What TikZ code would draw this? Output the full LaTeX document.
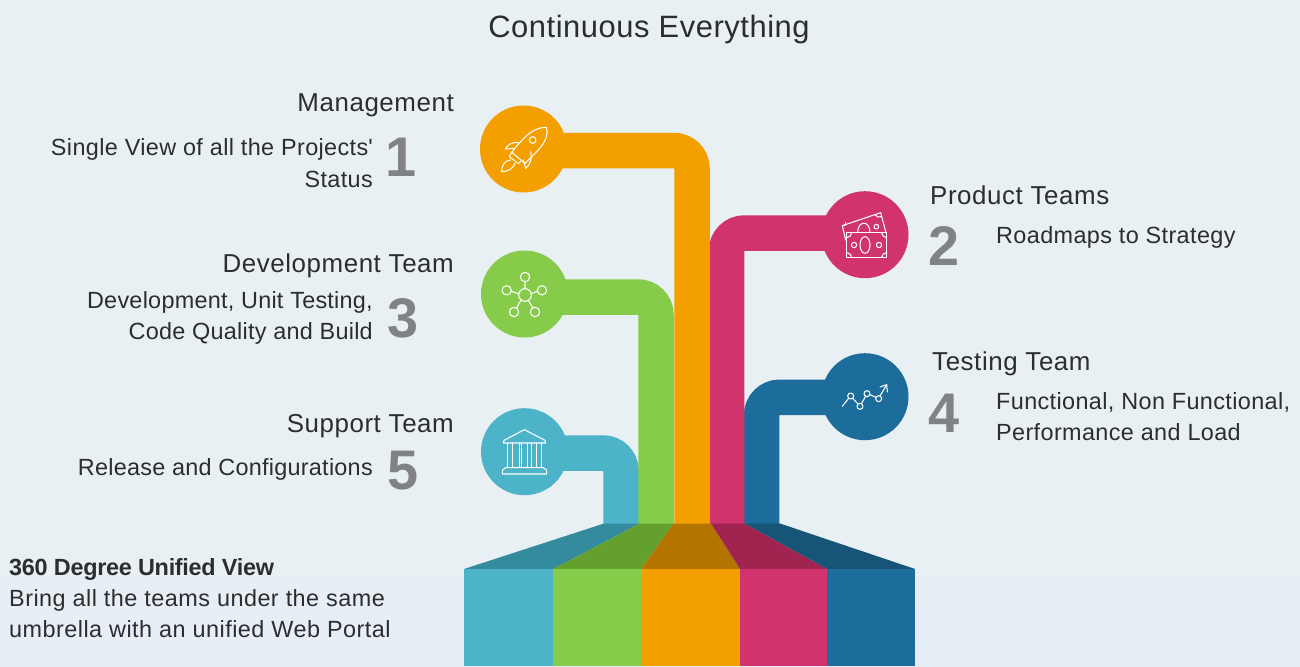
\documentclass[tikz,border=0pt]{standalone}
\usepackage{fontspec}
\setmainfont{Liberation Sans}
\newfontfamily\plainquote{Liberation Sans}
\usetikzlibrary{backgrounds}
\definecolor{cteal}{HTML}{4DB3C8}\definecolor{cgreen}{HTML}{86CC4A}\definecolor{corange}{HTML}{F49F00}\definecolor{cpink}{HTML}{D1336C}\definecolor{cblue}{HTML}{1C6D9B}
\definecolor{dteal}{HTML}{348B9E}\definecolor{dgreen}{HTML}{64A02E}\definecolor{dorange}{HTML}{B37500}\definecolor{dpink}{HTML}{A0244F}\definecolor{dblue}{HTML}{175578}
\definecolor{ink}{HTML}{2B2D30}\definecolor{numgray}{HTML}{808285}
\definecolor{bgtop}{HTML}{E8F0F4}\definecolor{bgbot}{HTML}{E6EDF5}
\tikzset{
 x=1bp,y=-1bp,
 disc/.style={circle,minimum size=87bp,inner sep=0pt,fill=#1},
 bar/.style={line width=35.5bp,rounded corners=18bp,draw=#1},
 head/.style={font=\fontsize{26}{26}\selectfont\addfontfeature{LetterSpace=2.2},text=ink,inner sep=0pt},
 body/.style={font=\fontsize{23.5}{31}\selectfont\addfontfeature{LetterSpace=1.6},text=ink,inner sep=0pt},
 bodytight/.style={font=\fontsize{23.5}{31}\selectfont\addfontfeature{LetterSpace=1.1},text=ink,inner sep=0pt},
 num/.style={font=\fontsize{56}{56}\selectfont\bfseries,text=numgray,inner sep=0pt,anchor=base},
 icon/.style={draw=white,line width=1.05bp,line join=round,line cap=round},
}
\begin{document}
\begin{tikzpicture}
\useasboundingbox (0,0) rectangle (1300,666);
% discs
\node[disc=corange] (c1) at (523.5,149) {};
\node[disc=cpink] (c2) at (865,234.7) {};
\node[disc=cgreen] (c3) at (524.5,294) {};
\node[disc=cblue] (c4) at (865,396.7) {};
\node[disc=cteal] (c5) at (524.5,451.7) {};
% connector ends
\coordinate (s1) at (523.5,150.5); \coordinate (b1) at (692,524);
\coordinate (s2) at (865,233);     \coordinate (b2) at (726.5,524);
\coordinate (s3) at (524.5,297);   \coordinate (b3) at (656,524);
\coordinate (s4) at (865,397.3);   \coordinate (b4) at (761.6,524);
\coordinate (s5) at (524.5,453);   \coordinate (b5) at (621,524);
\begin{scope}[on background layer]
\fill[bgtop] (0,0) rectangle (1300,560);
\shade[top color=bgtop,bottom color=bgbot] (0,560) rectangle (1300,666);
\draw[bar=cteal] (s5) -| (b5);
\draw[bar=cgreen] (s3) -| (b3);
\draw[bar=cblue] (s4) -| (b4);
\draw[bar=cpink] (s2) -| (b2);
\draw[bar=corange] (s1) -| (b1);
% fold
\fill[dteal] (604,523.5) -- (639.7,523.5) -- (553.3,569) -- (464,569) -- cycle;
\fill[dgreen] (639.7,523.5) -- (673.7,523.5) -- (641,569) -- (553.3,569) -- cycle;
\fill[dorange] (673.7,523.5) -- (711,523.5) -- (740,569) -- (641,569) -- cycle;
\fill[dpink] (711,523.5) -- (744.7,523.5) -- (827.3,569) -- (740,569) -- cycle;
\fill[dblue] (744.7,523.5) -- (780,523.5) -- (915,569) -- (827.3,569) -- cycle;
\fill[cteal] (464,569) rectangle (553.3,666);
\fill[cgreen] (553.3,569) rectangle (641,666);
\fill[corange] (641,569) rectangle (740,666);
\fill[cpink] (740,569) rectangle (827.3,666);
\fill[cblue] (827.3,569) rectangle (915,666);
\end{scope}
% texts
\node[font=\fontsize{31}{31}\selectfont\addfontfeature{LetterSpace=1.8},text=ink,inner sep=0pt,anchor=base] (title) at (649,38) {Continuous Everything};
\node[head,anchor=base east] (t1) at (454,112) {Management};
\node[body,anchor=base east,align=right] (d1) at (373,187) {Single View of all the Projects{\plainquote\addfontfeature{LetterSpace=0}\symbol{39}}\\[1pt]Status};
\node[num] (n1) at (401,176) {1};
\node[head,anchor=base east] (t3) at (454,272) {Development Team};
\node[bodytight,anchor=base east,align=right] (d3) at (373,339) {Development, Unit Testing,\\Code Quality and Build};
\node[num] (n3) at (403,337.5) {3};
\node[head,anchor=base east] (t5) at (454,432) {Support Team};
\node[bodytight,anchor=base east,align=right] (d5) at (373,475) {Release and Configurations};
\node[num] (n5) at (403,489.5) {5};
\node[head,anchor=base west] (t2) at (930,204) {Product Teams};
\node[body,anchor=base west] (d2) at (996,243) {Roadmaps to Strategy};
\node[num] (n2) at (944,265) {2};
\node[head,anchor=base west] (t4) at (932,370) {Testing Team};
\node[body,anchor=base west,align=left] (d4) at (996,440) {Functional, Non Functional,\\Performance and Load};
\node[num] (n4) at (944,432) {4};
\node[font=\fontsize{23.5}{31}\selectfont\addfontfeature{LetterSpace=2},text=ink,inner sep=0pt,anchor=base west,align=left] (u) at (9,637) {{\bfseries\addfontfeature{LetterSpace=-1.2}360 Degree Unified View}\\Bring all the teams under the same\\umbrella with an unified Web Portal};
% rocket
\begin{scope}[shift={(470,95)},x=0.3333bp,y=-0.3333bp,icon]
\draw (230,97) .. controls (195,97) and (170,115) .. (125,172) -- (165,205) .. controls (205,165) and (238,140) .. (230,97) -- cycle;
\draw (188,135) circle[radius=10];
\draw (125,172) -- (118,185) -- (145,206) -- (155,196);
\draw (147,143) .. controls (125,140) and (112,150) .. (106,162) -- (133,160);
\draw (182,170) .. controls (188,190) and (180,210) .. (167,220) -- (160,195);
\draw (122,195) .. controls (100,198) and (95,215) .. (95,230) .. controls (115,230) and (130,220) .. (135,205);
\end{scope}
% banknotes
\begin{scope}[shift={(815,185)},x=0.3333bp,y=-0.3333bp,icon]
\draw (95,143) rectangle (215,217);
\draw (92,165) -- (82,122) -- (197,83) -- (213,143);
\draw (150,180) ellipse[x radius=15,y radius=25];
\draw (117,180) circle[radius=8];
\draw (192,180) circle[radius=8];
\draw (128,143) .. controls (128,105) and (165,105) .. (165,143);
\draw (184,125) circle[radius=7];
\draw (95,158) .. controls (103,158) and (110,151) .. (110,143);
\draw (200,143) .. controls (200,151) and (207,158) .. (215,158);
\draw (95,203) .. controls (103,203) and (110,210) .. (110,217);
\draw (200,217) .. controls (200,210) and (207,203) .. (215,203);
\draw (82,122) .. controls (90,124) and (94,120) .. (92,113);
\draw (180,89) .. controls (184,96) and (192,98) .. (200,95);
\end{scope}
% network
\begin{scope}[shift={(475,245)},x=0.3333bp,y=-0.3333bp,icon]
\draw (150,150) circle[radius=19];
\draw (150,96) circle[radius=14] (95,136) circle[radius=14] (201,136) circle[radius=14] (117,201) circle[radius=14] (180,201) circle[radius=14];
\draw (150,110) -- (150,131) (109,139) -- (131,146) (187,139) -- (169,146) (125,189) -- (138,165) (173,188) -- (160,166);
\end{scope}
% chart
\begin{scope}[shift={(815,347)},x=0.3333bp,y=-0.3333bp,icon]
\draw (107,147) circle[radius=9] (135,178) circle[radius=9] (156,140) circle[radius=9] (191,155) circle[radius=9];
\draw (82,178) -- (101,154) (113,154) -- (129,171) (139,170) -- (152,148) (165,143) -- (183,151) (195,147) -- (215,113);
\draw (195,120) -- (215,113) -- (217,135);
\end{scope}
% bank
\begin{scope}[shift={(475,402)},x=0.3333bp,y=-0.3333bp,icon]
\draw (87,115) -- (148,83) -- (210,115) -- (212,123) -- (85,123) -- cycle;
\draw (97,123) -- (97,197) (200,123) -- (200,197);
\draw[line width=0.8bp] (113,123) -- (113,197) (132,123) -- (132,197) (140,123) -- (140,197) (157,123) -- (157,197) (168,123) -- (168,197) (185,123) -- (185,197);
\draw (92,197) -- (205,197) -- (215,205) -- (215,216) -- (82,216) -- (82,205) -- cycle;
\end{scope}
\end{tikzpicture}
\end{document}
